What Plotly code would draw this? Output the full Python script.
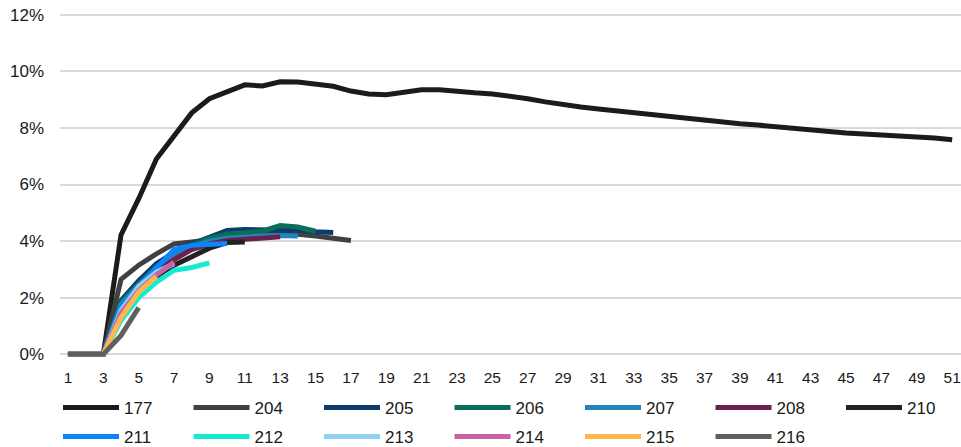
import plotly.graph_objects as go

# x categories (periods)
periods = list(range(1, 52))
x_tick_vals = list(range(1, 52, 2))
y_tick_vals = [0, 2, 4, 6, 8, 10, 12]
y_tick_text = ["0%", "2%", "4%", "6%", "8%", "10%", "12%"]

# series values (%), starting at period 1
s177 = [0, 0, 0, 4.22, 5.5, 6.9, 7.75, 8.53, 9.03, 9.28, 9.52, 9.48, 9.63, 9.62, 9.53,
        9.47, 9.3, 9.2, 9.17, 9.25, 9.35, 9.35, 9.28, 9.24, 9.2, 9.13, 9.03, 8.92, 8.81,
        8.74, 8.67, 8.6, 8.53, 8.46, 8.4, 8.33, 8.26, 8.21, 8.15, 8.1, 8.04, 7.96, 7.9,
        7.86, 7.82, 7.78, 7.75, 7.71, 7.68, 7.64, 7.58]
s204 = [0, 0, 0, 2.65, 3.15, 3.55, 3.9, 3.97, 4.05, 4.15, 4.25, 4.3, 4.3, 4.25, 4.18, 4.1, 4.02]
s205 = [0, 0, 0, 1.9, 2.6, 3.2, 3.6, 3.9, 4.15, 4.38, 4.41, 4.41, 4.42, 4.38, 4.33, 4.3]
s206 = [0, 0, 0, 1.85, 2.5, 3.1, 3.55, 3.85, 4.1, 4.25, 4.3, 4.35, 4.55, 4.5, 4.35]
s207 = [0, 0, 0, 1.75, 2.45, 3.0, 3.5, 3.8, 4.0, 4.1, 4.15, 4.18, 4.2, 4.18]
s208 = [0, 0, 0, 1.55, 2.3, 2.9, 3.35, 3.7, 3.9, 4.02, 4.07, 4.12, 4.15]
s210 = [0, 0, 0, 1.45, 2.2, 2.75, 3.15, 3.45, 3.75, 3.95, 3.97]
s211 = [0, 0, 0, 1.65, 2.4, 3.05, 3.7, 3.85, 3.9, 3.92]
s212 = [0, 0, 0, 1.2, 2.0, 2.55, 2.97, 3.07, 3.23]
s213 = [0, 0, 0, 1.55, 2.4, 2.9, 3.2]
s214 = [0, 0, 0, 1.45, 2.25, 2.8, 3.25]
s215 = [0, 0, 0, 1.3, 2.2, 2.75]
s216 = [0, 0, 0, 0.67, 1.65]

series_names = ["177", "204", "205", "206", "207", "208", "210",
                "211", "212", "213", "214", "215", "216"]
series_values = [s177, s204, s205, s206, s207, s208, s210,
                 s211, s212, s213, s214, s215, s216]
series_colors = ["#1b1b1b", "#404040", "#0c3c6e", "#0b6e5a", "#2186bb", "#6a2150", "#222222",
                 "#0a84ff", "#14ead0", "#90d0f0", "#c964a4", "#ffb64f", "#5f5f5f"]

fig = go.Figure()
for i, (name, vals, col) in enumerate(zip(series_names, series_values, series_colors)):
    fig.add_trace(go.Scatter(
        x=periods[:len(vals)], y=vals, name=name, mode="lines",
        line=dict(color=col, width=5),
        legend="legend" if i < 7 else "legend2",
    ))

legend_common = dict(
    orientation="h", xanchor="left", yanchor="top",
    entrywidth=59.5, entrywidthmode="pixels", itemwidth=56,
    font=dict(size=17, color="#1a1a1a"), bgcolor="rgba(0,0,0,0)",
)

fig.update_layout(
    width=961, height=447,
    margin=dict(l=60, r=0, t=9, b=87, autoexpand=False),
    paper_bgcolor="white", plot_bgcolor="white",
    font=dict(family="Liberation Sans, Arial, sans-serif", color="#1a1a1a"),
    showlegend=True,
    legend=dict(x=-0.0022, y=-0.0855, **legend_common),
    legend2=dict(x=-0.0022, y=-0.168, **legend_common),
    xaxis=dict(
        range=[0.55, 51.5], tickmode="array", tickvals=x_tick_vals,
        showgrid=False, zeroline=False, showline=False, ticks="",
        tickfont=dict(size=15.5), ticklabelstandoff=6, automargin=False,
    ),
    yaxis=dict(
        range=[-0.2, 12.2], tickmode="array", tickvals=y_tick_vals, ticktext=y_tick_text,
        showgrid=True, gridcolor="#d9d9d9", gridwidth=1.5, zeroline=False,
        showline=False, ticks="", tickfont=dict(size=17), ticklabelstandoff=15,
        automargin=False,
    ),
)

fig.write_html("out.html", config={"displayModeBar": False},
               post_script="document.body.style.margin='0';")
